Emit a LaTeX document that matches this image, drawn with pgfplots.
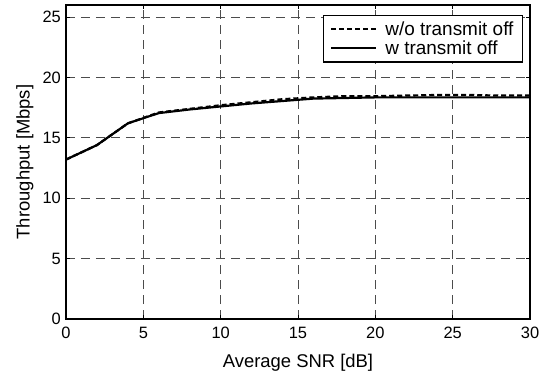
\documentclass[border=0pt]{standalone}
\usepackage{fontspec}
\setmainfont{Liberation Sans}
\usepackage{pgfplots}
\pgfplotsset{compat=1.18}

\begin{document}
\begin{tikzpicture}
\begin{axis}[
  name=ax,
  scale only axis,
  width=464bp, height=314bp,
  xmin=0, xmax=30, ymin=0, ymax=26,
  xtick={0,5,...,30}, ytick={0,5,...,25},
  /pgf/number format/assume math mode=true,
  tick label style={font=\fontsize{16.5}{18}\selectfont},
  xticklabel style={inner sep=0pt, yshift=-8bp},
  yticklabel style={inner sep=0pt, xshift=-5bp},
  xlabel={Average SNR [dB]},
  ylabel={Throughput [Mbps]},
  label style={font=\fontsize{18.5}{20}\selectfont},
  xlabel style={at={(axis description cs:0.5,-0.140)}, anchor=center},
  ylabel style={at={(axis description cs:-0.0884,0.5)}, anchor=center},
  grid=major,
  major grid style={black!70, line width=0.9pt, dash pattern=on 9bp off 6bp},
  tick style={black, line width=0.9pt},
  major tick length=4bp,
  axis line style={black, line width=1.5pt},
  legend style={at={(axis description cs:0.985,0.968)}, anchor=north east,
    draw=black, line width=1.2pt, fill=white,
    font=\fontsize{19}{20}\selectfont, inner xsep=7bp, inner ysep=4bp, row sep=0bp,
    column sep=6bp, cells={anchor=west}},
  legend cell align=left,
  legend image code/.code={%
    \draw[#1, line width=2pt] (0bp,0bp) -- (45bp,0bp);},
]
\addplot[black, line width=2.2pt, dash pattern=on 5bp off 3bp] coordinates {
  (0,13.2) (2,14.4) (4,16.2) (6,17.1) (8,17.4) (10,17.7) (12,17.95) (14,18.2)
  (16,18.35) (18,18.45) (20,18.45) (22,18.5) (24,18.55) (26,18.55) (28,18.5) (30,18.5)
};
\addlegendentry{w/o transmit off}
\addplot[black, line width=2.2pt] coordinates {
  (0,13.2) (2,14.4) (4,16.2) (6,17.05) (8,17.35) (10,17.6) (12,17.85) (14,18.05)
  (16,18.25) (18,18.3) (20,18.35) (22,18.35) (24,18.35) (26,18.35) (28,18.35) (30,18.35)
};
\addlegendentry{w transmit off}
\end{axis}
\pgfresetboundingbox
\path[use as bounding box]
  ([shift={(-66bp,-52bp)}]ax.south west) rectangle ([shift={(17bp,5bp)}]ax.north east);
\end{tikzpicture}
\end{document}
